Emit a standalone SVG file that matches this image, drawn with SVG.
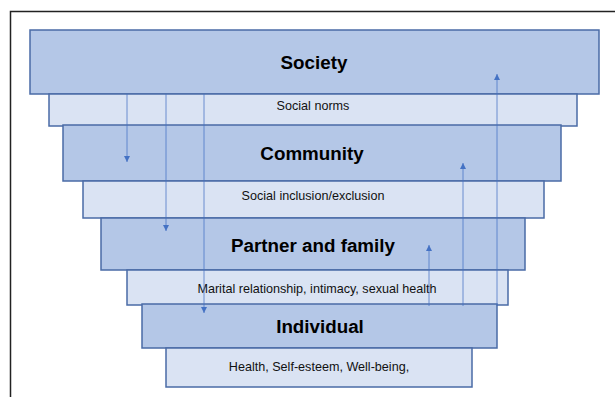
<svg xmlns="http://www.w3.org/2000/svg" width="615" height="397" viewBox="0 0 615 397">
<style>
.dark{fill:#B4C7E7;stroke:#4A6BA6;stroke-width:1.5}
.light{fill:#DAE3F3;stroke:#4A6BA6;stroke-width:1.5}
.big{font-family:"Liberation Sans",Arial,sans-serif;font-weight:bold;font-size:18.8px;fill:#000;text-anchor:middle}
.small{font-family:"Liberation Sans",Arial,sans-serif;font-size:12.6px;fill:#111;text-anchor:middle}
.con{stroke:#4472C4;stroke-opacity:0.75;stroke-width:1;fill:none}
</style>
<defs>
<marker id="ah" markerUnits="userSpaceOnUse" markerWidth="8" markerHeight="8" viewBox="0 0 8 8" refX="6" refY="4" orient="auto">
<path d="M0,1 L6,4 L0,7 Z" fill="#4472C4"/>
</marker>
</defs>
<rect width="615" height="397" fill="#fff"/>
<path d="M10.5,397 V11.5 H615" fill="none" stroke="#222" stroke-width="1.5"/>
<g id="society"><rect class="dark" x="30" y="30" width="569" height="64"/><text class="big" x="314" y="69">Society</text></g>
<g id="social-norms"><rect class="light" x="49" y="94" width="528" height="32"/><text class="small" x="313" y="110">Social norms</text></g>
<g id="community"><rect class="dark" x="63" y="125" width="498" height="56"/><text class="big" x="312" y="160">Community</text></g>
<g id="social-inclusion"><rect class="light" x="83" y="181" width="461" height="37"/><text class="small" x="313" y="200">Social inclusion/exclusion</text></g>
<g id="partner-family"><rect class="dark" x="101" y="218" width="424" height="52"/><text class="big" x="313" y="252">Partner and family</text></g>
<g id="marital"><rect class="light" x="127" y="270" width="381" height="35"/><text class="small" x="317" y="293">Marital relationship, intimacy, sexual health</text></g>
<g id="individual"><rect class="dark" x="142" y="304" width="355" height="44"/><text class="big" x="320" y="333">Individual</text></g>
<g id="health"><rect class="light" x="166" y="348" width="306" height="39"/><text class="small" x="319" y="371">Health, Self-esteem, Well-being,</text></g>
<g id="connectors">
<line class="con" x1="127" y1="94" x2="127" y2="162" marker-end="url(#ah)"/>
<line class="con" x1="166" y1="94" x2="166" y2="231" marker-end="url(#ah)"/>
<line class="con" x1="204" y1="94" x2="204" y2="313" marker-end="url(#ah)"/>
<line class="con" x1="429" y1="306" x2="429" y2="245" marker-end="url(#ah)"/>
<line class="con" x1="463" y1="306" x2="463" y2="163" marker-end="url(#ah)"/>
<line class="con" x1="497" y1="306" x2="497" y2="74" marker-end="url(#ah)"/>
</g>
</svg>
